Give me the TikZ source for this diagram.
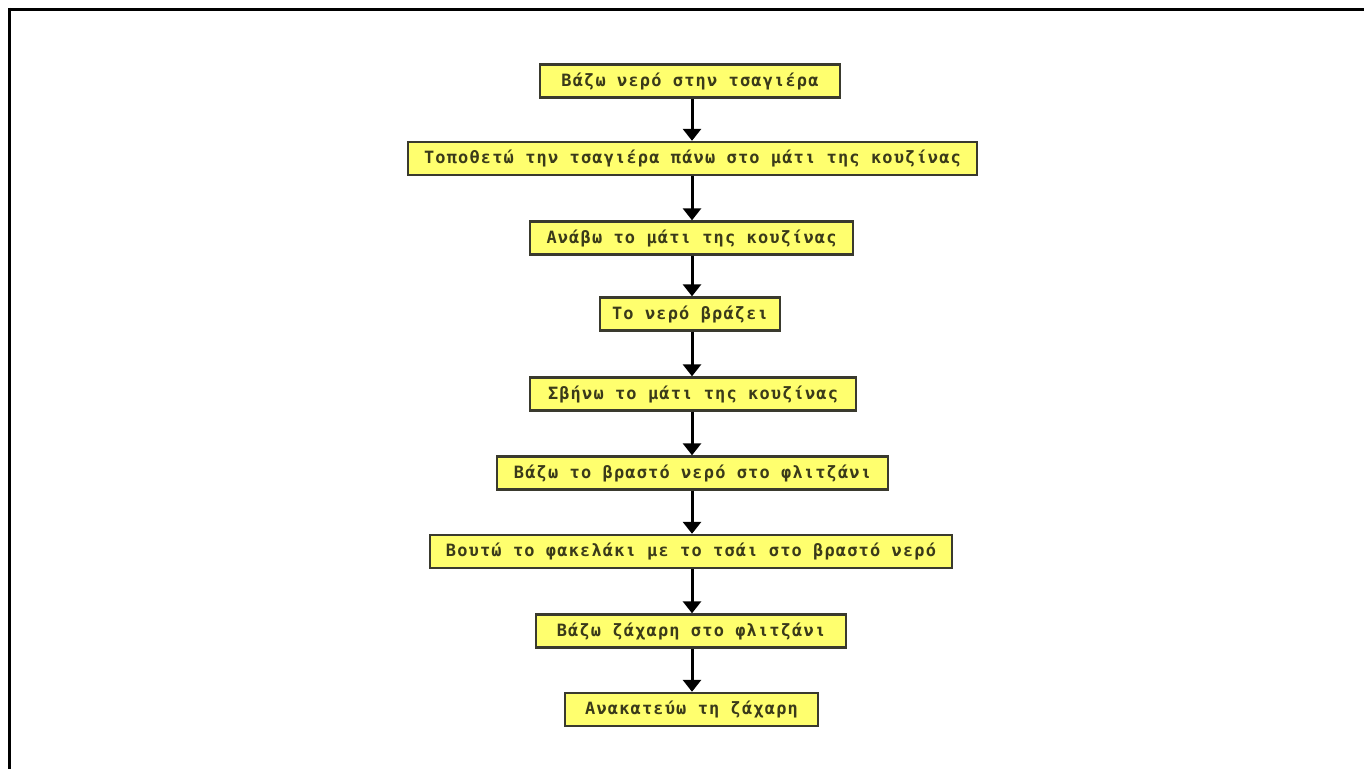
\documentclass[tikz,border=0pt]{standalone}
\usepackage{fontspec}
\newfontfamily\boxfont[LetterSpace=7]{DejaVu Sans Mono Bold}
\usetikzlibrary{arrows.meta}
\definecolor{boxyellow}{HTML}{FFFF6E}
\definecolor{boxedge}{HTML}{3A3A2E}
\definecolor{boxtext}{HTML}{3A3A1A}
\tikzset{
  stepbox/.style={draw=boxedge, line width=2.4bp, fill=boxyellow, text=boxtext,
    minimum height=33bp, inner sep=0pt, font=\boxfont\fontsize{17}{20}\selectfont},
  flowarrow/.style={draw=black, line width=3bp, -{Triangle[width=18bp,length=12bp]}},
  framefill/.style={draw=black, line width=3bp}
}
\begin{document}
\begin{tikzpicture}[x=1bp,y=-1bp]
\useasboundingbox (0,0) rectangle (1364,769);
\fill[white] (0,0) rectangle (1364,769);
\coordinate (fa) at (8,9.5);
\coordinate (fb) at (1364,9.5);
\coordinate (fc) at (9.5,8);
\coordinate (fd) at (9.5,769);
\draw[framefill] (fa) -- (fb);
\draw[framefill] (fc) -- (fd);
\node[stepbox, minimum width=300bp] (s1) at (690,81) {Βάζω νερό στην τσαγιέρα};
\node[stepbox, minimum width=569bp] (s2) at (692.5,158.5) {Τοποθετώ την τσαγιέρα πάνω στο μάτι της κουζίνας};
\node[stepbox, minimum width=323bp] (s3) at (691.5,238) {Ανάβω το μάτι της κουζίνας};
\node[stepbox, minimum width=180bp] (s4) at (690,314) {Το νερό βράζει};
\node[stepbox, minimum width=326bp] (s5) at (693,394) {Σβήνω το μάτι της κουζίνας};
\node[stepbox, minimum width=391bp] (s6) at (692.5,473) {Βάζω το βραστό νερό στο φλιτζάνι};
\node[stepbox, minimum width=522bp] (s7) at (691,551.5) {Βουτώ το φακελάκι με το τσάι στο βραστό νερό};
\node[stepbox, minimum width=310bp] (s8) at (691,631) {Βάζω ζάχαρη στο φλιτζάνι};
\node[stepbox, minimum width=253bp] (s9) at (691.5,709.5) {Ανακατεύω τη ζάχαρη};
\foreach \a/\b in {s1/s2,s2/s3,s3/s4,s4/s5,s5/s6,s6/s7,s7/s8,s8/s9}{
  \draw[flowarrow] (\a.south -| 692,0) -- (\b.north -| 692,0);
}
\end{tikzpicture}
\end{document}
